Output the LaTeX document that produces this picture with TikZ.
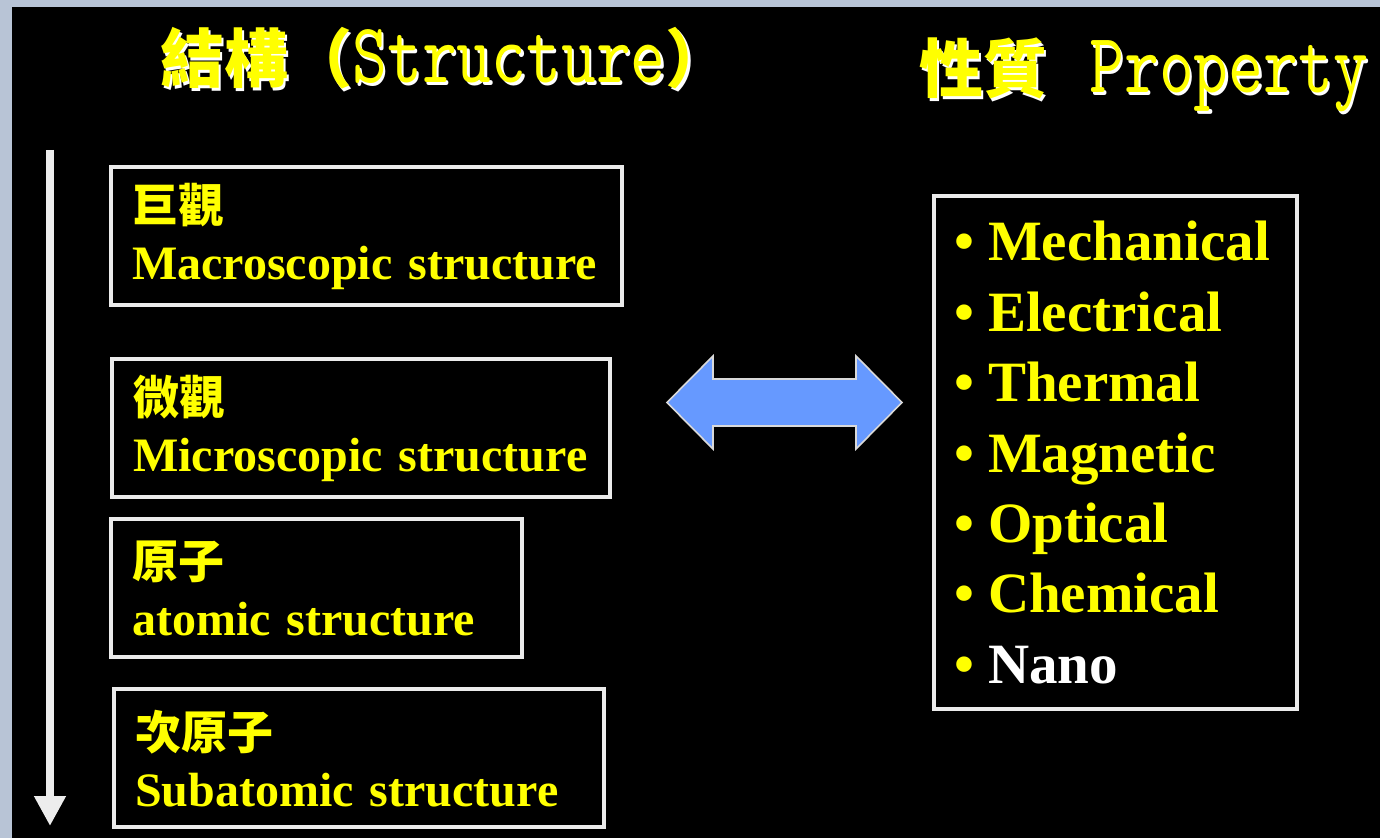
\documentclass[tikz,border=0pt]{standalone}
\usepackage{fontspec}
\usepackage{graphicx}
\setmainfont{Liberation Serif}
\newfontfamily\cjk{Noto Sans CJK TC}
\usetikzlibrary{arrows.meta}
\definecolor{slideyellow}{RGB}{255,255,0}
\definecolor{framegray}{RGB}{184,196,214}
\definecolor{arrowblue}{RGB}{102,153,255}
\newcommand{\embossed}[1]{\makebox[0pt][l]{\hspace{1.2pt}\raisebox{-1.2pt}{\color{white}#1}}#1}
\newcommand{\cnlabel}[1]{{\cjk\bfseries\fontsize{23}{23}\selectfont #1}}
\newcommand{\titlecn}[1]{{\cjk\bfseries\fontsize{32}{32}\selectfont #1}}
\newcommand{\titlelatin}[1]{{\ttfamily\addfontfeatures{FakeBold=1.2}\fontsize{42.5}{42.5}\selectfont\scalebox{0.795}[1]{#1}}}

\begin{document}
\begin{tikzpicture}[
  x=0.5pt, y=-0.5pt,
  strbox/.style={draw=white!92!black, line width=2.2pt, anchor=north west,
                 align=left, inner xsep=10.5pt, inner ysep=0pt,
                 minimum height=69pt, text=slideyellow,
                 font=\bfseries\fontsize{24}{28.5}\selectfont},
  propbox/.style={draw=white!92!black, line width=2.2pt, anchor=north west,
                  align=left, inner xsep=10pt, inner ysep=0pt,
                  minimum width=181.5pt, minimum height=256.5pt,
                  text width=161.5pt, text=slideyellow,
                  font=\bfseries\fontsize{28.5}{35.2}\selectfont},
  titletext/.style={anchor=base west, inner sep=0pt, text=slideyellow},
  scalearrow/.style={draw=white!93!black, line width=4pt,
                     -{Triangle[width=15pt, length=15pt]}},
  bigarrow/.style={fill=arrowblue, draw=white!85!black, line width=0.8pt}
]
\useasboundingbox (0,0) rectangle (1380,838);

% slide background
\fill[framegray] (0,0) rectangle (1380,838);
\fill[black] (12,7) rectangle (1380,838);

% titles
\node[titletext] (strtitle) at (160,83)
  {\embossed{\titlecn{結構（}\titlelatin{Structure}\titlecn{）}}};
\node[titletext] (proptitle) at (919,93)
  {\embossed{\titlecn{性質}\hspace{21pt}\titlelatin{Property}}};

% structure levels
\node[strbox, minimum width=255.5pt, text width=234.5pt] (macro) at (109,165) {
  \cnlabel{巨觀}\\
  Macroscopic structure
};
\node[strbox, minimum width=249pt, text width=228pt] (micro) at (110,357) {
  \cnlabel{微觀}\\
  Microscopic structure
};
\node[strbox, minimum width=205.5pt, text width=184.5pt] (atomic) at (109,517) {
  \cnlabel{原子}\\
  atomic structure
};
\node[strbox, minimum width=245pt, text width=224pt] (subatomic) at (112,687) {
  \cnlabel{次原子}\\
  Subatomic structure
};

% scale arrow
\coordinate (scaletop) at (50,150);
\coordinate (scalebot) at (50,826);
\draw[scalearrow] (scaletop) -- (scalebot);

% properties
\node[propbox] (props) at (932,194) {
  \textbullet\hspace{7pt}Mechanical\\
  \textbullet\hspace{7pt}Electrical\\
  \textbullet\hspace{7pt}Thermal\\
  \textbullet\hspace{7pt}Magnetic\\
  \textbullet\hspace{7pt}Optical\\
  \textbullet\hspace{7pt}Chemical\\
  \textbullet\hspace{7pt}{\color{white}Nano}
};

% structure <-> property
\draw[bigarrow] (667,402.5) -- (713,356) -- (713,379) -- (856,379)
  -- (856,356) -- (902,402.5) -- (856,449) -- (856,426) -- (713,426)
  -- (713,449) -- cycle;

\end{tikzpicture}
\end{document}
